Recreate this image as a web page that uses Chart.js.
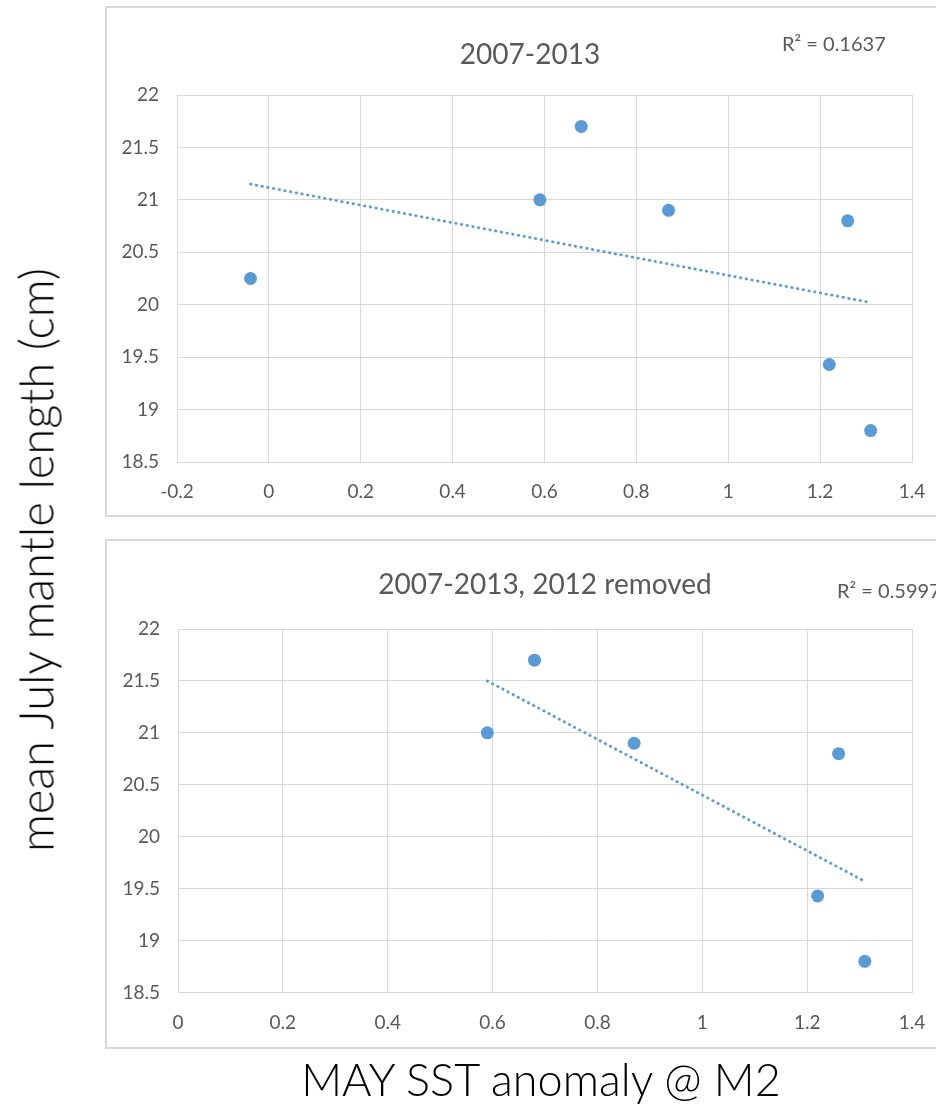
<!DOCTYPE html>
<html>
<head>
<meta charset="utf-8">
<script src="https://cdn.jsdelivr.net/npm/chart.js@4.4.1/dist/chart.umd.min.js"></script>
<style>
  html, body { margin: 0; padding: 0; background: #fff; }
  body { width: 936px; height: 1111px; position: relative; overflow: hidden; font-family: Lato, "Open Sans", sans-serif; }
  .frame { position: absolute; box-sizing: border-box; border: 2px solid #d9d9d9; background: #fff; }
  canvas { position: absolute; left: 0; }
  .axis-title { position: absolute; font-family: Lato, "Open Sans", sans-serif; font-weight: 300; line-height: 1; color: #000; white-space: nowrap; }
</style>
</head>
<body>
<div class="frame" style="left:105px; top:6px; width:900px; height:511px;"></div>
<div class="frame" style="left:105px; top:539px; width:900px; height:510px;"></div>
<canvas id="panelTop" width="936" height="530" style="top:0px;"></canvas>
<canvas id="panelBottom" width="936" height="540" style="top:530px;"></canvas>
<div class="axis-title" id="yTitle" style="font-size:47px; left:36px; top:560px; transform: translate(-50%,-50%) rotate(-90deg);">mean July mantle length (cm)</div>
<div class="axis-title" id="xTitle" style="font-size:45px; left:541px; top:1057px; transform: translateX(-50%);">MAY SST anomaly @ M2</div>
<script>
// May SST anomaly at M2 (x) against mean July mantle length in cm (y)
const sstAll = [-0.04, 0.59, 0.68, 0.87, 1.26, 1.22, 1.31];
const lengthAll = [20.25, 21.0, 21.7, 20.9, 20.8, 19.43, 18.8];

// Same years with 2012 left out
const sstNo2012 = [0.59, 0.68, 0.87, 1.26, 1.22, 1.31];
const lengthNo2012 = [21.0, 21.7, 20.9, 20.8, 19.43, 18.8];

// Linear trend line end points
const trendAllX = [-0.04, 1.31];
const trendAllY = [21.15, 20.02];
const trendNo2012X = [0.59, 1.31];
const trendNo2012Y = [21.5, 19.57];

// Panel titles and fit statistics
const titleAll = '2007-2013';
const titleNo2012 = '2007-2013, 2012 removed';
const r2All = 'R\u00B2 = 0.1637';
const r2No2012 = 'R\u00B2 = 0.5997';

// Axis ticks
const yTicks = [18.5, 19, 19.5, 20, 20.5, 21, 21.5, 22];
const yTickLabels = ['18.5', '19', '19.5', '20', '20.5', '21', '21.5', '22'];
const xTicksAll = [-0.2, 0, 0.2, 0.4, 0.6, 0.8, 1, 1.2, 1.4];
const xTickLabelsAll = ['-0.2', '0', '0.2', '0.4', '0.6', '0.8', '1', '1.2', '1.4'];
const xTicksNo2012 = [0, 0.2, 0.4, 0.6, 0.8, 1, 1.2, 1.4];
const xTickLabelsNo2012 = ['0', '0.2', '0.4', '0.6', '0.8', '1', '1.2', '1.4'];

const BLUE = '#5b9bd5';
const GRID = '#d9d9d9';
const TEXT = '#595959';
const FONT = 'Lato, "Open Sans", sans-serif';

const toPoints = (xs, ys) => xs.map((x, i) => ({ x: x, y: ys[i] }));

// Draws the panel title and the R² note
const panelText = {
  id: 'panelText',
  afterDraw(chart, args, opts) {
    const ctx = chart.ctx;
    ctx.save();
    (opts.items || []).forEach(it => {
      ctx.font = it.font;
      ctx.fillStyle = it.color;
      ctx.textAlign = it.align;
      ctx.textBaseline = 'middle';
      ctx.fillText(it.text, it.x, it.y);
    });
    ctx.restore();
  }
};

function makePanel(id, cfg) {
  const ctx = document.getElementById(id);
  return new Chart(ctx, {
    type: 'scatter',
    data: {
      datasets: [
        {
          type: 'line',
          data: toPoints(cfg.trendX, cfg.trendY),
          borderColor: BLUE,
          borderWidth: 2.8,
          borderDash: [0.5, 5.3],
          borderCapStyle: 'round',
          pointRadius: 0,
          fill: false,
          order: 2
        },
        {
          data: toPoints(cfg.xs, cfg.ys),
          backgroundColor: BLUE,
          borderColor: BLUE,
          borderWidth: 0,
          pointRadius: 6.5,
          pointHoverRadius: 6.5,
          order: 1
        }
      ]
    },
    options: {
      responsive: false,
      animation: false,
      devicePixelRatio: 1,
      layout: { padding: cfg.padding },
      plugins: {
        legend: { display: false },
        tooltip: { enabled: false },
        panelText: { items: cfg.texts }
      },
      scales: {
        x: {
          type: 'linear',
          min: cfg.xTicks[0],
          max: cfg.xTicks[cfg.xTicks.length - 1],
          afterBuildTicks: s => { s.ticks = cfg.xTicks.map(v => ({ value: v })); },
          afterFit: s => { s.height = 50; s.paddingRight = 0; s.paddingLeft = 0; },
          grid: { color: GRID, lineWidth: 1, drawTicks: false },
          border: { color: GRID, width: 1 },
          ticks: {
            padding: 18.5,
            color: TEXT,
            font: { family: FONT, size: 19 },
            maxRotation: 0,
            callback: (v, i) => cfg.xLabels[i]
          }
        },
        y: {
          type: 'linear',
          min: yTicks[0],
          max: yTicks[yTicks.length - 1],
          afterBuildTicks: s => { s.ticks = yTicks.map(v => ({ value: v })); },
          afterFit: s => { s.width = cfg.yWidth; },
          grid: { color: GRID, lineWidth: 1, drawTicks: false },
          border: { color: GRID, width: 1 },
          ticks: {
            padding: 18,
            color: TEXT,
            font: { family: FONT, size: 19 },
            callback: (v, i) => yTickLabels[i]
          }
        }
      }
    },
    plugins: [panelText]
  });
}

makePanel('panelTop', {
  xs: sstAll, ys: lengthAll,
  trendX: trendAllX, trendY: trendAllY,
  xTicks: xTicksAll, xLabels: xTickLabelsAll,
  yWidth: 177,
  padding: { top: 95, right: 24, bottom: 18, left: 0 },
  texts: [
    { text: titleAll, x: 530, y: 55, align: 'center', color: TEXT, font: '28px ' + FONT },
    { text: r2All, x: 782, y: 45, align: 'left', color: TEXT, font: '20px ' + FONT }
  ]
});

makePanel('panelBottom', {
  xs: sstNo2012, ys: lengthNo2012,
  trendX: trendNo2012X, trendY: trendNo2012Y,
  xTicks: xTicksNo2012, xLabels: xTickLabelsNo2012,
  yWidth: 178,
  padding: { top: 99, right: 24, bottom: 27.5, left: 0 },
  texts: [
    { text: titleNo2012, x: 545, y: 55, align: 'center', color: TEXT, font: '28px ' + FONT },
    { text: r2No2012, x: 837, y: 62, align: 'left', color: TEXT, font: '20px ' + FONT }
  ]
});
</script>
</body>
</html>
